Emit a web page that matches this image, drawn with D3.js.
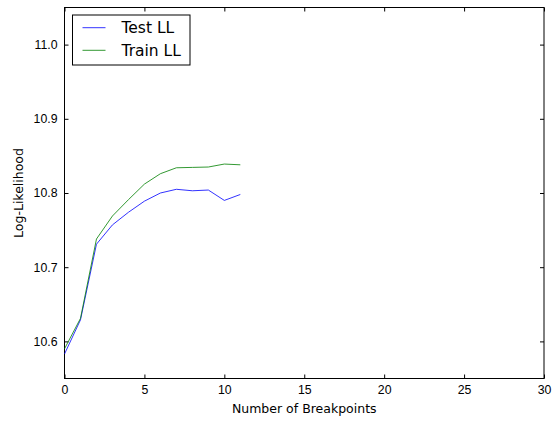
<!DOCTYPE html>
<html>
<head>
<meta charset="utf-8">
<script src="https://cdn.jsdelivr.net/npm/d3@7"></script>
<style>
  body { margin: 0; background: #fff; }
  svg { font-family: "DejaVu Sans", sans-serif; }
</style>
</head>
<body>
<script>
// breakpoints count on x, log-likelihood on y
const breakpoints = [0, 1, 2, 3, 4, 5, 6, 7, 8, 9, 10, 11];
const testLL  = [10.583, 10.629, 10.731, 10.757, 10.774, 10.789, 10.800, 10.805, 10.803, 10.804, 10.790, 10.798];
const trainLL = [10.590, 10.631, 10.738, 10.769, 10.791, 10.812, 10.826, 10.834, 10.8345, 10.835, 10.839, 10.838];
const xTicks = [0, 5, 10, 15, 20, 25, 30];
const yTicks = [10.6, 10.7, 10.8, 10.9, 11.0];

const width = 555, height = 421;
const margin = {left: 64.5, right: 11, top: 7.5, bottom: 42.5};

const svg = d3.select('body').append('svg')
  .attr('width', width)
  .attr('height', height);

const x = d3.scaleLinear().domain([0, 30]).range([margin.left, width - margin.right]);
const y = d3.scaleLinear().domain([10.55, 11.05]).range([height - margin.bottom, margin.top]);

// ticks point inward on all four sides
const tick = 4;
const axisStyle = g => {
  g.select('.domain').remove();
  g.selectAll('line').attr('stroke', '#000');
  g.selectAll('text').attr('font-size', 12.3).attr('fill', '#000');
};

svg.append('g')
  .attr('transform', `translate(0,${y.range()[0]})`)
  .call(d3.axisBottom(x).tickValues(xTicks).tickSizeInner(-tick).tickPadding(7).tickFormat(d3.format('d')))
  .call(axisStyle);
svg.append('g')
  .attr('transform', `translate(0,${y.range()[1]})`)
  .call(d3.axisTop(x).tickValues(xTicks).tickSizeInner(-tick).tickFormat(''))
  .call(axisStyle);
svg.append('g')
  .attr('transform', `translate(${x.range()[0]},0)`)
  .call(d3.axisLeft(y).tickValues(yTicks).tickSizeInner(-tick).tickPadding(7).tickFormat(d3.format('.1f')))
  .call(axisStyle);
svg.append('g')
  .attr('transform', `translate(${x.range()[1]},0)`)
  .call(d3.axisRight(y).tickValues(yTicks).tickSizeInner(-tick).tickFormat(''))
  .call(axisStyle);

// frame
svg.append('rect')
  .attr('x', x.range()[0]).attr('y', y.range()[1])
  .attr('width', x.range()[1] - x.range()[0])
  .attr('height', y.range()[0] - y.range()[1])
  .attr('fill', 'none').attr('stroke', '#000').attr('stroke-width', 1);

const line = vals => d3.line()
  .x((d, i) => x(breakpoints[i]))
  .y(d => y(d))(vals);

const series = [
  {name: 'Test LL', values: testLL, color: '#0000ff'},
  {name: 'Train LL', values: trainLL, color: '#008000'}
];

svg.selectAll('path.series')
  .data(series)
  .join('path')
  .attr('class', 'series')
  .attr('d', d => line(d.values))
  .attr('fill', 'none')
  .attr('stroke', d => d.color)
  .attr('stroke-width', 1)
  .attr('stroke-opacity', 0.8);

// axis labels
svg.append('text')
  .attr('x', (x.range()[0] + x.range()[1]) / 2)
  .attr('y', 413)
  .attr('text-anchor', 'middle')
  .attr('font-size', 12.5)
  .text('Number of Breakpoints');
svg.append('text')
  .attr('transform', `translate(23,${(y.range()[0] + y.range()[1]) / 2}) rotate(-90)`)
  .attr('text-anchor', 'middle')
  .attr('font-size', 12.5)
  .text('Log-Likelihood');

// legend
const legend = svg.append('g').attr('transform', 'translate(72.5,15)');
legend.append('rect')
  .attr('width', 117.5).attr('height', 50)
  .attr('fill', '#fff').attr('stroke', '#000').attr('stroke-width', 1);
const items = legend.selectAll('g.item')
  .data(series)
  .join('g')
  .attr('class', 'item')
  .attr('transform', (d, i) => `translate(0,${12.7 + i * 22.6})`);
items.append('line')
  .attr('x1', 10).attr('x2', 33)
  .attr('stroke', d => d.color).attr('stroke-opacity', 0.8);
items.append('text')
  .attr('x', 49).attr('dy', '0.35em')
  .attr('font-size', 15.5)
  .text(d => d.name);
</script>
</body>
</html>
